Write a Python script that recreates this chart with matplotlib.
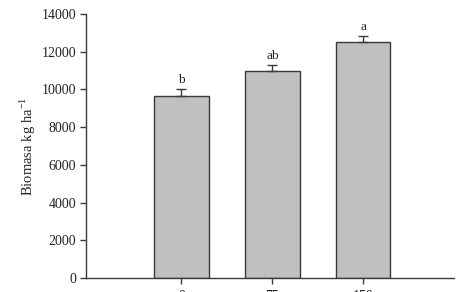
import numpy as np
import matplotlib.pyplot as plt

plt.rcParams['font.family'] = ['Liberation Serif', 'DejaVu Serif']

# data
categories = ['0', '75', '150']
biomasa = [9650, 10970, 12520]
errors = [350, 340, 330]
letters = ['b', 'ab', 'a']

x = np.arange(1, len(categories) + 1)

fig = plt.figure(figsize=(4.61, 2.92), dpi=100)
ax = fig.add_axes([0.1866, 0.048, 0.7984, 0.904])

edge = '#3a3a3a'
ax.bar(x, biomasa, width=0.6, color='#c0c0c0', edgecolor=edge, linewidth=1.0, zorder=2)
ax.errorbar(x, biomasa, yerr=[np.zeros(len(errors)), errors], fmt='none',
            ecolor=edge, elinewidth=1.0, capsize=3.5, capthick=1.0, zorder=3)

for xi, v, e, lab in zip(x, biomasa, errors, letters):
    ax.text(xi, v + e + 160, lab, ha='center', va='bottom', fontsize=9.5, color='#222222')

ax.set_xlim(-0.05, 4.0)
ax.set_ylim(0, 14000)
ax.set_yticks(np.arange(0, 14001, 2000))
ax.set_xticks(x)
ax.set_xticklabels(categories)

for s in ['top', 'right']:
    ax.spines[s].set_visible(False)
for s in ['left', 'bottom']:
    ax.spines[s].set_color(edge)
    ax.spines[s].set_linewidth(1.0)

ax.tick_params(axis='both', direction='out', length=4, width=1.0, color=edge,
               labelsize=10, labelcolor='#222222')
ax.tick_params(axis='y', pad=3)
ax.tick_params(axis='x', pad=5)

ax.set_ylabel('Biomasa kg ha$^{\\mathregular{-1}}$', fontsize=10.5, color='#222222', labelpad=3)

fig.savefig('out.png', dpi=100)
